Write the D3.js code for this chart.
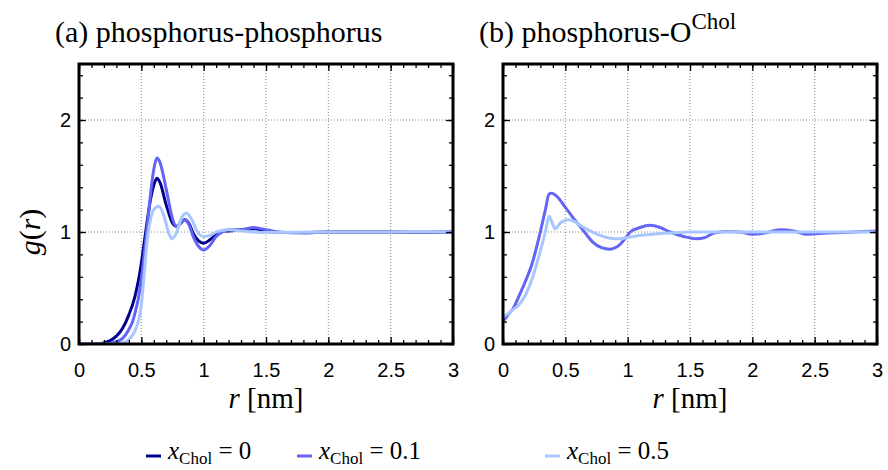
<!DOCTYPE html>
<html><head><meta charset="utf-8">
<script src="https://cdn.jsdelivr.net/npm/d3@7"></script>
<style>
html,body{margin:0;padding:0;background:#fff;}
svg{display:block;}
</style></head>
<body>
<svg id="chart" width="888" height="470"></svg>
<script>
// ---------- data ----------
const seriesNames = ["0", "0.1", "0.5"];
const seriesColors = ["#00008b", "#6464f5", "#a8c6ff"];

// panel (a) phosphorus-phosphorus
const rPP0 = [0,0.10,0.15,0.20,0.25,0.30,0.35,0.40,0.45,0.50,0.525,0.55,0.575,0.60,0.625,0.65,0.70,0.75,0.78,0.82,0.85,0.88,0.92,0.96,1.00,1.05,1.10,1.15,1.20,1.30,1.40,1.50,1.60,1.80,2.00,2.50,2.70,3.00];
const gPP0 = [0,0,0.002,0.01,0.03,0.07,0.14,0.26,0.43,0.72,0.92,1.12,1.30,1.42,1.48,1.44,1.24,1.08,1.05,1.09,1.11,1.08,0.98,0.92,0.90,0.93,0.98,1.01,1.01,1.02,1.03,1.01,0.995,0.995,1.0,1.0,0.995,1.0];

const rPP1 = [0,0.20,0.25,0.30,0.35,0.40,0.43,0.45,0.475,0.50,0.525,0.55,0.575,0.60,0.625,0.65,0.70,0.75,0.78,0.82,0.85,0.88,0.92,0.96,1.00,1.05,1.10,1.15,1.20,1.30,1.40,1.50,1.60,1.80,2.00,2.40,2.80,3.00];
const gPP1 = [0,0,0.005,0.02,0.05,0.13,0.20,0.28,0.40,0.58,0.82,1.08,1.35,1.56,1.66,1.62,1.38,1.12,1.05,1.08,1.11,1.07,0.95,0.87,0.84,0.88,0.96,1.00,1.02,1.02,1.04,1.02,1.0,0.99,1.0,1.0,1.0,1.0];

const rPP5 = [0,0.30,0.35,0.40,0.45,0.48,0.50,0.525,0.55,0.575,0.60,0.64,0.68,0.72,0.745,0.78,0.82,0.86,0.90,0.95,1.00,1.05,1.10,1.20,1.30,1.50,2.00,3.00];
const gPP5 = [0,0,0.01,0.04,0.12,0.22,0.35,0.65,0.95,1.12,1.20,1.23,1.15,0.99,0.94,0.99,1.12,1.17,1.12,1.00,0.96,0.97,1.00,1.02,1.01,0.995,1.0,1.0];

// panel (b) phosphorus-O^Chol
const rPO1 = [0,0.04,0.083,0.137,0.18,0.23,0.297,0.34,0.37,0.39,0.43,0.50,0.56,0.618,0.66,0.72,0.79,0.858,0.93,1.00,1.02,1.10,1.18,1.26,1.34,1.45,1.55,1.62,1.69,1.79,1.90,2.00,2.10,2.22,2.33,2.44,2.60,2.81,3.00];
const gPO1 = [0.20,0.26,0.32,0.45,0.56,0.705,0.99,1.20,1.34,1.345,1.32,1.22,1.13,1.05,0.99,0.91,0.86,0.846,0.88,0.97,1.0,1.04,1.06,1.04,1.0,0.96,0.94,0.95,0.99,1.005,1.0,0.98,0.99,1.02,1.01,0.98,0.99,1.0,1.01];

const rPO5 = [0,0.04,0.083,0.137,0.18,0.23,0.297,0.34,0.37,0.395,0.417,0.46,0.524,0.58,0.618,0.70,0.778,0.86,0.94,1.00,1.10,1.20,1.34,1.50,2.00,2.50,3.00];
const gPO5 = [0.245,0.27,0.31,0.36,0.44,0.57,0.82,1.0,1.14,1.08,1.03,1.08,1.11,1.09,1.06,1.01,0.97,0.945,0.94,0.95,0.97,0.98,0.99,1.0,1.0,1.0,1.0];

const xTicks = [0, 0.5, 1, 1.5, 2, 2.5, 3];
const yTicks = [0, 1, 2];
const panelTitles = ["(a) phosphorus-phosphorus", "(b) phosphorus-O"];

// ---------- layout ----------
const svg = d3.select("#chart");
const W = 374, H = 280, topY = 64;
const lefts = [79, 503];

const x = d3.scaleLinear().domain([0, 3]).range([0, W]);
const y = d3.scaleLinear().domain([0, 2.5]).range([H, 0]);

const panels = [
  [ {r: rPP0, g: gPP0, c: 0}, {r: rPP1, g: gPP1, c: 1}, {r: rPP5, g: gPP5, c: 2} ],
  [ {r: rPO1, g: gPO1, c: 1}, {r: rPO5, g: gPO5, c: 2} ]
];

const line = d3.line().x(d => x(d[0])).y(d => y(d[1])).curve(d3.curveMonotoneX);
const xMinor = d3.range(0, 3.0001, 0.1).map(v => +v.toFixed(2));
const yMinor = d3.range(0, 2.5001, 0.2).map(v => +v.toFixed(2));

panels.forEach((series, pi) => {
  const g = svg.append("g").attr("transform", `translate(${lefts[pi]},${topY})`);

  // grid
  g.append("g").selectAll("line").data(xTicks.filter(v => v > 0 && v < 3)).join("line")
    .attr("x1", d => x(d)).attr("x2", d => x(d)).attr("y1", 0).attr("y2", H)
    .attr("stroke", "#888").attr("stroke-width", 1).attr("stroke-dasharray", "1,2");
  g.append("g").selectAll("line").data(yTicks.filter(v => v > 0)).join("line")
    .attr("y1", d => y(d)).attr("y2", d => y(d)).attr("x1", 0).attr("x2", W)
    .attr("stroke", "#888").attr("stroke-width", 1).attr("stroke-dasharray", "1,2");

  // curves
  const clipId = "clip" + pi;
  g.append("clipPath").attr("id", clipId).append("rect").attr("width", W).attr("height", H);
  const cg = g.append("g").attr("clip-path", `url(#${clipId})`);
  series.forEach(s => {
    cg.append("path").datum(s.r.map((r, i) => [r, s.g[i]]))
      .attr("d", line).attr("fill", "none")
      .attr("stroke", seriesColors[s.c]).attr("stroke-width", 3)
      .attr("stroke-linejoin", "round");
  });

  // axes (inward ticks)
  const fmt = d => String(d);
  g.append("g").attr("transform", `translate(0,${H})`)
    .call(d3.axisBottom(x).tickValues(xTicks).tickSizeInner(-7).tickSizeOuter(0).tickPadding(19).tickFormat(fmt));
  g.append("g").attr("transform", `translate(0,${H})`)
    .call(d3.axisBottom(x).tickValues(xMinor).tickSizeInner(-4).tickSizeOuter(0).tickFormat(""));
  g.append("g").call(d3.axisTop(x).tickValues(xTicks).tickSizeInner(-7).tickSizeOuter(0).tickFormat(""));
  g.append("g").call(d3.axisTop(x).tickValues(xMinor).tickSizeInner(-4).tickSizeOuter(0).tickFormat(""));
  g.append("g")
    .call(d3.axisLeft(y).tickValues(yTicks).tickSizeInner(-7).tickSizeOuter(0).tickPadding(8).tickFormat(fmt));
  g.append("g").call(d3.axisLeft(y).tickValues(yMinor).tickSizeInner(-4).tickSizeOuter(0).tickFormat(""));
  g.append("g").attr("transform", `translate(${W},0)`)
    .call(d3.axisRight(y).tickValues(yTicks).tickSizeInner(-7).tickSizeOuter(0).tickFormat(""));
  g.append("g").attr("transform", `translate(${W},0)`)
    .call(d3.axisRight(y).tickValues(yMinor).tickSizeInner(-4).tickSizeOuter(0).tickFormat(""));

  g.selectAll(".domain").remove();
  g.selectAll(".tick line").attr("stroke", "#000").attr("stroke-width", 1.3);
  g.selectAll(".tick text").attr("font-family", "'Liberation Sans', Arial, sans-serif")
    .attr("font-size", 20).attr("fill", "#000");

  // frame
  g.append("rect").attr("width", W).attr("height", H).attr("fill", "none")
    .attr("stroke", "#000").attr("stroke-width", 3);

  // x label
  const xl = g.append("text").attr("x", W / 2).attr("y", 408 - topY).attr("text-anchor", "middle")
    .attr("font-family", "'Liberation Serif', 'Times New Roman', serif").attr("font-size", 29);
  xl.append("tspan").attr("font-style", "italic").text("r");
  xl.append("tspan").text(" [nm]");

  // title
  const t = svg.append("text").attr("x", lefts[pi] - 24).attr("y", 42)
    .attr("font-family", "'Liberation Serif', 'Times New Roman', serif").attr("font-size", 30);
  t.append("tspan").text(panelTitles[pi]);
  if (pi === 1) t.append("tspan").attr("dy", -13).attr("font-size", 23).text("Chol");
});

// y label
const yl = svg.append("text").attr("transform", "translate(40,232) rotate(-90)").attr("text-anchor", "middle")
  .attr("font-family", "'Liberation Serif', 'Times New Roman', serif").attr("font-size", 30);
yl.append("tspan").attr("font-style", "italic").text("g");
yl.append("tspan").text("(");
yl.append("tspan").attr("font-style", "italic").text("r");
yl.append("tspan").text(")");

// legend
const legX = [146, 297, 545];
seriesNames.forEach((name, i) => {
  const lg = svg.append("g").attr("transform", `translate(${legX[i]},0)`);
  lg.append("line").attr("x1", 0).attr("x2", 15).attr("y1", 456).attr("y2", 456)
    .attr("stroke", seriesColors[i]).attr("stroke-width", 3);
  const tx = lg.append("text").attr("x", 22).attr("y", 459)
    .attr("font-family", "'Liberation Serif', 'Times New Roman', serif").attr("font-size", 25);
  tx.append("tspan").attr("font-style", "italic").text("x");
  tx.append("tspan").attr("dy", 5).attr("font-size", 17).text("Chol");
  tx.append("tspan").attr("dy", -5).text(" = " + name);
});
</script>
</body></html>
